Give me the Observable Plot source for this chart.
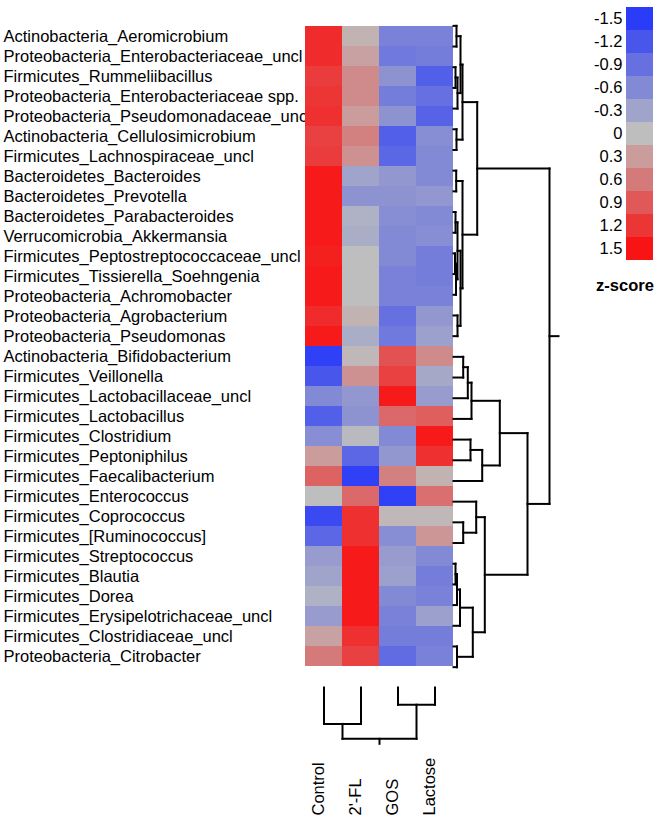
<!DOCTYPE html>
<html>
<head>
<meta charset="utf-8">
<script src="https://cdn.jsdelivr.net/npm/d3@7"></script>
<script src="https://cdn.jsdelivr.net/npm/@observablehq/plot@0.6"></script>
<style>
  html, body { margin: 0; padding: 0; background: #ffffff; }
  #wrap { position: relative; width: 668px; height: 817px; overflow: hidden; font-family: "Liberation Sans", Arial, sans-serif; }
  #wrap svg { position: absolute; background: transparent !important; overflow: visible; }
  #ztitle { position: absolute; left: 585px; top: 276px; width: 80px; text-align: center; font-weight: bold; font-size: 16.5px; color: #000; }
</style>
</head>
<body>
<div id="wrap"><div id="ztitle">z-score</div></div>
<script>
const samples = ["Control", "2'-FL", "GOS", "Lactose"];
const taxa = [
  "Actinobacteria_Aeromicrobium",
  "Proteobacteria_Enterobacteriaceae_uncl",
  "Firmicutes_Rummeliibacillus",
  "Proteobacteria_Enterobacteriaceae spp.",
  "Proteobacteria_Pseudomonadaceae_unc",
  "Actinobacteria_Cellulosimicrobium",
  "Firmicutes_Lachnospiraceae_uncl",
  "Bacteroidetes_Bacteroides",
  "Bacteroidetes_Prevotella",
  "Bacteroidetes_Parabacteroides",
  "Verrucomicrobia_Akkermansia",
  "Firmicutes_Peptostreptococcaceae_uncl",
  "Firmicutes_Tissierella_Soehngenia",
  "Proteobacteria_Achromobacter",
  "Proteobacteria_Agrobacterium",
  "Proteobacteria_Pseudomonas",
  "Actinobacteria_Bifidobacterium",
  "Firmicutes_Veillonella",
  "Firmicutes_Lactobacillaceae_uncl",
  "Firmicutes_Lactobacillus",
  "Firmicutes_Clostridium",
  "Firmicutes_Peptoniphilus",
  "Firmicutes_Faecalibacterium",
  "Firmicutes_Enterococcus",
  "Firmicutes_Coprococcus",
  "Firmicutes_[Ruminococcus]",
  "Firmicutes_Streptococcus",
  "Firmicutes_Blautia",
  "Firmicutes_Dorea",
  "Firmicutes_Erysipelotrichaceae_uncl",
  "Firmicutes_Clostridiaceae_uncl",
  "Proteobacteria_Citrobacter"
];
// z-scores per sample (row order as taxa)
const zControl = [1.3, 1.3, 1.15, 1.2, 1.25, 1.1, 1.15, 1.45, 1.45, 1.45, 1.45, 1.4, 1.45, 1.45, 1.3, 1.45,
                  -1.45, -1.2, -0.6, -1.1, -0.55, 0.3, 0.8, 0.0, -1.35, -1.0, -0.4, -0.3, -0.15, -0.4, 0.25, 0.6];
const z2FL     = [0.1, 0.25, 0.45, 0.45, 0.3, 0.55, 0.4, -0.3, -0.5, -0.15, -0.2, 0.0, 0.0, 0.0, 0.1, -0.2,
                  0.05, 0.4, -0.45, -0.5, -0.05, -1.0, -1.45, 0.75, 1.25, 1.25, 1.45, 1.45, 1.45, 1.45, 1.25, 1.1];
const zGOS     = [-0.7, -0.8, -0.5, -0.75, -0.5, -1.1, -1.0, -0.45, -0.5, -0.55, -0.6, -0.6, -0.7, -0.7, -0.9, -0.8,
                  0.95, 1.1, 1.45, 0.75, -0.6, -0.45, 0.55, -1.45, 0.05, -0.55, -0.4, -0.35, -0.6, -0.7, -0.75, -0.95];
const zLactose = [-0.7, -0.75, -1.1, -0.9, -1.05, -0.55, -0.6, -0.6, -0.45, -0.6, -0.55, -0.75, -0.75, -0.7, -0.45, -0.35,
                  0.45, -0.25, -0.4, 0.85, 1.45, 1.25, 0.1, 0.7, 0.05, 0.35, -0.6, -0.75, -0.7, -0.35, -0.75, -0.7];
const legendTicks = [-1.5, -1.2, -0.9, -0.6, -0.3, 0, 0.3, 0.6, 0.9, 1.2, 1.5];

// Row dendrogram: [mergeHeight, left, right]; leaves are row indices
const rowTree = [96,
  [23.7,
    [9, [7, [3, 0, 1], [4, [2, 2, 3], 4]], [3, 5, 6]],
    [9, [2.7, 7, 8], [7, [4, [2, 9, 10], [2.5, [1.5, 11, 12], 13]], [4, 14, 15]]]
  ],
  [74,
    [46.3, [18, [14.3, [9.7, 16, 17], 18], 19], [28.7, [17, 20, 21], 22]],
    [31.3, [22.7, 23, [9.7, 24, 25]], [19.3, [6.5, [3.5, [2, 26, 27], 28], 29], [3.5, 30, 31]]]
  ]
];
const rowStub = 105;
// Column dendrogram
const colTree = [51.6, [36.6, 0, 1], [17.3, 2, 3]];
const colStub = 56.6;

const zcols = [zControl, z2FL, zGOS, zLactose];
const cells = [];
taxa.forEach((t, i) => samples.forEach((s, j) => cells.push({taxon: t, sample: s, z: zcols[j][i]})));

function dendroSegments(tree, stub) {
  const segs = [];
  function walk(node) {
    if (typeof node === "number") return {pos: node, h: 0};
    const [h, a, b] = node;
    const A = walk(a), B = walk(b);
    segs.push({h1: A.h, p1: A.pos, h2: h, p2: A.pos});
    segs.push({h1: B.h, p1: B.pos, h2: h, p2: B.pos});
    segs.push({h1: h, p1: A.pos, h2: h, p2: B.pos});
    return {pos: (A.pos + B.pos) / 2, h};
  }
  const r = walk(tree);
  segs.push({h1: r.h, p1: r.pos, h2: stub, p2: r.pos});
  return segs;
}

const colorScale = {type: "linear", domain: [-1.5, 0, 1.5], range: ["#2b3cf8", "#bebebe", "#f81414"], interpolate: "rgb"};
const FONT = "'Liberation Sans', Arial, sans-serif";
const FS = 16.5;
const wrap = document.getElementById("wrap");
function place(svg, left, top) { svg.style.left = left + "px"; svg.style.top = top + "px"; wrap.appendChild(svg); }

// Heatmap with row labels
const heat = Plot.plot({
  width: 453, height: 677,
  marginLeft: 305, marginRight: 0, marginTop: 15, marginBottom: 0,
  style: {fontFamily: FONT, background: "transparent", overflow: "visible"},
  x: {type: "band", domain: samples, padding: 0, axis: null},
  y: {type: "band", domain: taxa, padding: 0, axis: null},
  color: colorScale,
  marks: [
    Plot.text(taxa, {y: d => d, text: d => d, frameAnchor: "left", textAnchor: "start", dx: -302, fontSize: FS, fill: "#000"}),
    Plot.cell(cells, {x: "sample", y: "taxon", fill: "z"})
  ]
});
place(heat, 0, 0);

// Row dendrogram
const rowSegs = dendroSegments(rowTree, rowStub);
const rowDend = Plot.plot({
  width: 560, height: 677,
  marginLeft: 453, marginRight: 2, marginTop: 15, marginBottom: 0,
  style: {background: "transparent", overflow: "visible"},
  x: {domain: [0, rowStub], axis: null},
  y: {domain: [-0.5, taxa.length - 0.5], reverse: true, axis: null},
  marks: [
    Plot.link(rowSegs, {x1: "h1", y1: "p1", x2: "h2", y2: "p2", stroke: "#000", strokeWidth: 2, strokeLinecap: "square"})
  ]
});
place(rowDend, 0, 0);

// Column dendrogram
const colSegs = dendroSegments(colTree, colStub);
const colDend = Plot.plot({
  width: 453, height: 70,
  marginLeft: 305, marginRight: 0, marginTop: 10, marginBottom: 3.7,
  style: {background: "transparent", overflow: "visible"},
  x: {domain: [-0.5, samples.length - 0.5], axis: null},
  y: {domain: [0, colStub], reverse: true, axis: null},
  marks: [
    Plot.link(colSegs, {x1: "p1", y1: "h1", x2: "p2", y2: "h2", stroke: "#000", strokeWidth: 2, strokeLinecap: "square"})
  ]
});
place(colDend, 0, 677);

// Column labels
const colLab = Plot.plot({
  width: 453, height: 70,
  marginLeft: 305, marginRight: 0, marginTop: 0, marginBottom: 2,
  style: {fontFamily: FONT, background: "transparent", overflow: "visible"},
  x: {type: "band", domain: samples, padding: 0, axis: null},
  marks: [
    Plot.text(samples, {x: d => d, text: d => d, frameAnchor: "bottom", rotate: -90, textAnchor: "start", fontSize: FS, fill: "#000"})
  ]
});
place(colLab, 0, 747);

// Legend
const legend = Plot.plot({
  width: 100, height: 266,
  marginLeft: 66, marginRight: 7, marginTop: 3, marginBottom: 3,
  style: {fontFamily: FONT, background: "transparent", overflow: "visible"},
  x: {axis: null},
  y: {type: "band", domain: legendTicks, padding: 0, label: null},
  color: colorScale,
  marks: [
    Plot.cell(legendTicks, {y: d => d, fill: d => d}),
    Plot.axisY({tickSize: 0, tickPadding: 4, fontSize: FS, tickFormat: d => String(d), label: null, fill: "#000"})
  ]
});
place(legend, 560, 0);
</script>
</body>
</html>
